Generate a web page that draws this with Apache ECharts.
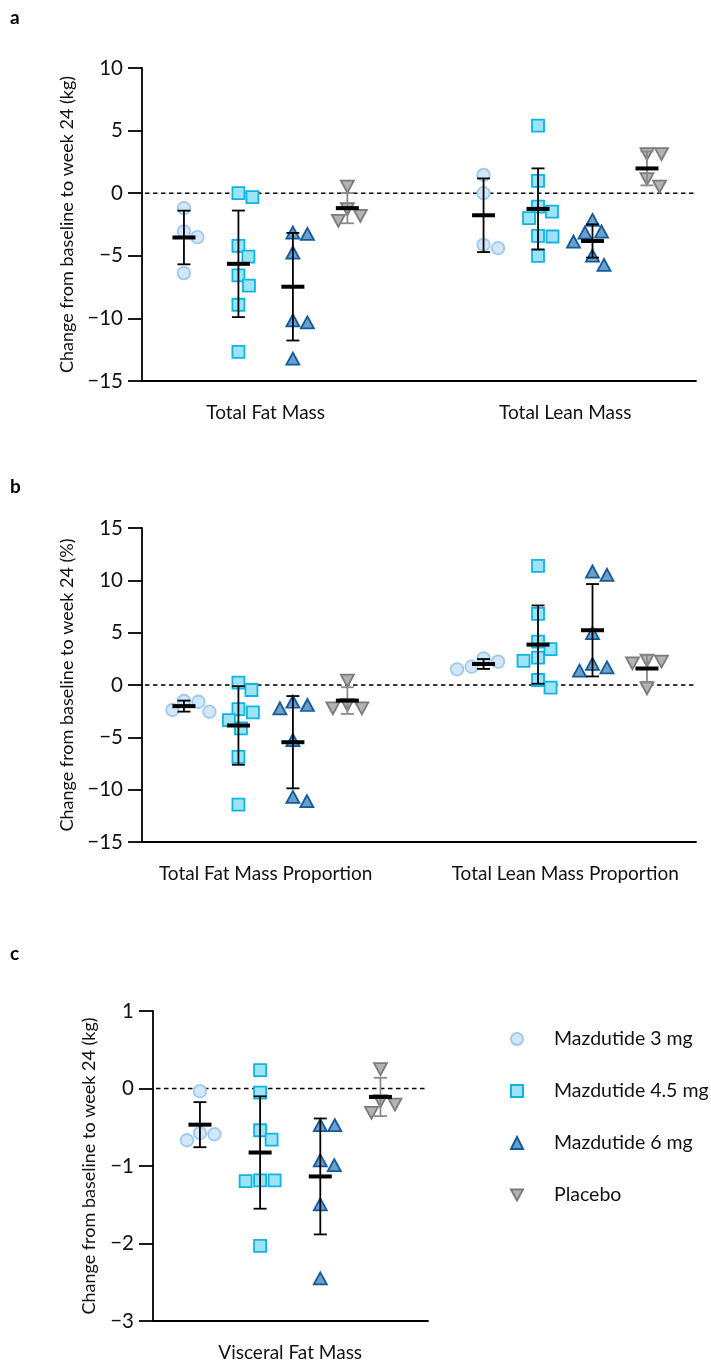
<!DOCTYPE html>
<html><head><meta charset="utf-8">
<script src="https://cdn.jsdelivr.net/npm/echarts@6/dist/echarts.min.js"></script>
<style>html,body{margin:0;padding:0;background:#fff}#c{width:711px;height:1365px}</style>
</head><body><div id="c"></div><script>
// ---------- data ----------
const doseNames = ['Mazdutide 3 mg', 'Mazdutide 4.5 mg', 'Mazdutide 6 mg', 'Placebo'];
const catsA = ['Total Fat Mass', 'Total Lean Mass'];
const catsB = ['Total Fat Mass Proportion', 'Total Lean Mass Proportion'];
const catsC = ['Visceral Fat Mass'];
const yTicksA = [-15, -10, -5, 0, 5, 10];
const yTicksB = [-15, -10, -5, 0, 5, 10, 15];
const yTicksC = [-3, -2, -1, 0, 1];
const yNameA = 'Change from baseline to week 24 (kg)';
const yNameB = 'Change from baseline to week 24 (%)';
const yNameC = 'Change from baseline to week 24 (kg)';

// panel a (kg)
const fatMass3 = [-1.2, -3.06, -3.51, -6.38];
const fatMass45 = [0, -0.32, -4.2, -5.06, -6.57, -7.39, -8.91, -12.68];
const fatMass6 = [-3.14, -3.25, -4.74, -10.16, -10.32, -13.21];
const fatMassPbo = [0.53, -1.28, -1.81, -2.21];
const leanMass3 = [1.46, 0, -4.12, -4.39];
const leanMass45 = [5.39, 0.98, -1.07, -1.47, -1.99, -3.41, -3.46, -5.0];
const leanMass6 = [-2.13, -3.06, -3.14, -3.86, -4.98, -5.72];
const leanMassPbo = [3.13, 3.13, 1.12, 0.53];
// panel b (%)
const fatProp3 = [-1.53, -1.6, -2.39, -2.55];
const fatProp45 = [0.22, -0.48, -2.3, -2.61, -3.35, -4.15, -6.86, -11.42];
const fatProp6 = [-1.6, -1.91, -2.23, -5.26, -10.69, -11.1];
const fatPropPbo = [0.41, -1.91, -2.23, -2.23];
const leanProp3 = [2.55, 2.23, 1.75, 1.5];
const leanProp45 = [11.39, 6.79, 4.14, 3.42, 2.61, 2.3, 0.48, -0.26];
const leanProp6 = [10.84, 10.53, 4.95, 2.01, 1.69, 1.37];
const leanPropPbo = [2.33, 2.23, 2.07, -0.32];
// panel c (kg)
const visceral3 = [-0.035, -0.574, -0.59, -0.668];
const visceral45 = [0.236, -0.052, -0.539, -0.659, -1.185, -1.185, -1.194, -2.03];
const visceral6 = [-0.474, -0.474, -0.926, -0.99, -1.495, -2.45];
const visceralPbo = [0.25, -0.164, -0.207, -0.315];

// ---------- styles ----------
const FONT = 'Lato';
const TXT = '#111';
const doseStyles = [
  { symbol: 'circle', size: 12.5, color: '#d4e7f8', border: '#9ecaee' },
  { symbol: 'rect', size: 12, color: '#9de3f6', border: '#10b4e2' },
  { symbol: 'triangle', size: [13, 12], color: '#6b9fcc', border: '#155b9b' },
  { symbol: 'path://M0,0L10,0L5,9Z', size: [13, 12], color: '#b3b3b3', border: '#7b7b7b' }
];
const GROUP_STEP = 5.5;

const panels = [
  { cats: catsA, ticks: yTicksA, name: yNameA, grid: { left: 142, top: 68, width: 554, height: 313 },
    xr: [-0.77, 9.4], nameGap: 63, groups: [[fatMass3, fatMass45, fatMass6, fatMassPbo], [leanMass3, leanMass45, leanMass6, leanMassPbo]] },
  { cats: catsB, ticks: yTicksB, name: yNameB, grid: { left: 142, top: 528, width: 554, height: 314 },
    xr: [-0.77, 9.4], nameGap: 63, groups: [[fatProp3, fatProp45, fatProp6, fatPropPbo], [leanProp3, leanProp45, leanProp6, leanPropPbo]] },
  { cats: catsC, ticks: yTicksC, name: yNameC, grid: { left: 153, top: 1011, width: 275, height: 310 },
    xr: [-0.78, 3.79], nameGap: 55, groups: [[visceral3, visceral45, visceral6, visceralPbo]] }
];

function meanSd(a) {
  const m = a.reduce((s, v) => s + v, 0) / a.length;
  const sd = Math.sqrt(a.reduce((s, v) => s + (v - m) * (v - m), 0) / (a.length - 1));
  return [m, sd];
}
const minus = v => String(v).replace('-', '\u2212');

function errRender(color) {
  return function (params, api) {
    const x = api.value(0);
    const top = api.coord([x, api.value(3)]);
    const bot = api.coord([x, api.value(2)]);
    const cw = 6.5;
    const st = { stroke: color, lineWidth: 1.8 };
    return { type: 'group', children: [
      { type: 'line', shape: { x1: top[0], y1: top[1], x2: bot[0], y2: bot[1] }, style: st },
      { type: 'line', shape: { x1: top[0] - cw, y1: top[1], x2: top[0] + cw, y2: top[1] }, style: st },
      { type: 'line', shape: { x1: bot[0] - cw, y1: bot[1], x2: bot[0] + cw, y2: bot[1] }, style: st }
    ] };
  };
}
function meanRender(params, api) {
  const p = api.coord([api.value(0), api.value(1)]);
  return { type: 'line', shape: { x1: p[0] - 11.5, y1: p[1], x2: p[0] + 11.5, y2: p[1] }, style: { stroke: '#000', lineWidth: 4 } };
}
function zeroRender(params, api) {
  const cs = params.coordSys;
  const y = api.coord([0, 0])[1];
  return { type: 'line', shape: { x1: cs.x + 3, y1: y, x2: cs.x + cs.width, y2: y }, style: { stroke: '#000', lineWidth: 1.6, lineDash: [4.5, 3.5] } };
}

const grids = [], xAxes = [], yAxes = [], series = [];
panels.forEach((P, g) => {
  grids.push(P.grid);
  const labelVals = P.cats.map((c, i) => i * GROUP_STEP + 1.5);
  xAxes.push({
    type: 'value', gridIndex: g, min: P.xr[0], max: P.xr[1],
    axisLine: { show: true, onZero: false, lineStyle: { color: '#000', width: 1.8 } },
    axisTick: { show: false }, splitLine: { show: false },
    axisLabel: { customValues: labelVals, formatter: v => P.cats[Math.round((v - 1.5) / GROUP_STEP)] || '',
      fontFamily: FONT, fontSize: 19, color: TXT, margin: 22 }
  });
  const t = P.ticks;
  yAxes.push({
    type: 'value', gridIndex: g, min: t[0], max: t[t.length - 1], interval: t[1] - t[0],
    axisLine: { show: true, onZero: false, lineStyle: { color: '#000', width: 1.8 } },
    axisTick: { show: true, length: 14, lineStyle: { color: '#000', width: 1.8 } },
    splitLine: { show: false },
    axisLabel: { formatter: minus, fontFamily: FONT, fontSize: 20.5, color: TXT, margin: 19 },
    name: P.name, nameLocation: 'middle', nameGap: P.nameGap,
    nameTextStyle: { fontFamily: FONT, fontSize: 18, color: TXT }
  });
  series.push({ type: 'custom', xAxisIndex: g, yAxisIndex: g, z: 1, silent: true, renderItem: zeroRender, data: [[0, 0]] });
  const errDose = [], errPbo = [], means = [];
  doseNames.forEach((dn, d) => {
    const st = doseStyles[d];
    const data = [];
    P.groups.forEach((grp, ci) => {
      const x = ci * GROUP_STEP + d;
      grp[d].forEach(v => data.push([x, v]));
      const [m, sd] = meanSd(grp[d]);
      (d === 3 ? errPbo : errDose).push([x, m, m - sd, m + sd]);
      means.push([x, m]);
    });
    series.push({
      type: 'scatter', name: dn, xAxisIndex: g, yAxisIndex: g, z: 3,
      symbol: st.symbol, symbolSize: st.size, data,
      itemStyle: { color: st.color, borderColor: st.border, borderWidth: 1.8, opacity: 1 },
      emphasis: { disabled: true }
    });
  });
  series.push({ type: 'custom', xAxisIndex: g, yAxisIndex: g, z: 5, silent: true, renderItem: errRender('#000'), encode: { x: 0, y: [1, 2, 3] }, data: errDose });
  series.push({ type: 'custom', xAxisIndex: g, yAxisIndex: g, z: 5, silent: true, renderItem: errRender('#8a8a8a'), encode: { x: 0, y: [1, 2, 3] }, data: errPbo });
  series.push({ type: 'custom', xAxisIndex: g, yAxisIndex: g, z: 6, silent: true, renderItem: meanRender, encode: { x: 0, y: 1 }, data: means });
});

const option = {
  backgroundColor: '#fff',
  animation: false,
  grid: grids, xAxis: xAxes, yAxis: yAxes, series,
  legend: {
    orient: 'vertical', left: 505, top: 1024, itemWidth: 12, itemHeight: 12, itemGap: 32,
    selectedMode: false,
    data: doseNames.map((n, d) => ({ name: n, icon: doseStyles[d].symbol })),
    textStyle: { fontFamily: FONT, fontSize: 19.5, color: TXT, padding: [0, 0, 0, 26] }
  },
  graphic: [
    { type: 'text', left: 10, top: 8, style: { text: 'a', fontFamily: FONT, fontWeight: 'bold', fontSize: 19, fill: '#000' } },
    { type: 'text', left: 10, top: 477, style: { text: 'b', fontFamily: FONT, fontWeight: 'bold', fontSize: 19, fill: '#000' } },
    { type: 'text', left: 10, top: 944, style: { text: 'c', fontFamily: FONT, fontWeight: 'bold', fontSize: 19, fill: '#000' } }
  ]
};

const chart = echarts.init(document.getElementById('c'), null, { renderer: 'canvas' });
chart.setOption(option);

// beeswarm spread in pixel space (data values unchanged)
function swarm(pys, D) {
  const placed = [], offs = [];
  pys.forEach(py => {
    let best = null;
    for (let o = 0; o < 200 && best === null; o += 0.5) {
      const cands = o === 0 ? [0] : [o, -o];
      for (const x of cands) {
        if (placed.every(p => Math.hypot(p[0] - x, p[1] - py) >= D)) { best = x; break; }
      }
    }
    placed.push([best, py]); offs.push(best);
  });
  return offs;
}
let sIdx = 0;
panels.forEach((P, g) => {
  sIdx += 1; // zero line
  const p0 = chart.convertToPixel({ gridIndex: g }, [0, 0]);
  const p1 = chart.convertToPixel({ gridIndex: g }, [1, 0]);
  const ppu = p1[0] - p0[0];
  doseNames.forEach((dn, d) => {
    const data = [];
    P.groups.forEach((grp, ci) => {
      const x = ci * GROUP_STEP + d;
      const vals = grp[d].slice().sort((a, b) => b - a);
      const pys = vals.map(v => chart.convertToPixel({ gridIndex: g }, [x, v])[1]);
      const offs = swarm(pys, 14.5);
      vals.forEach((v, i) => data.push([x + offs[i] / ppu, v]));
    });
    option.series[sIdx].data = data;
    sIdx += 1;
  });
  sIdx += 3;
});
chart.setOption({ series: option.series });
</script></body></html>
